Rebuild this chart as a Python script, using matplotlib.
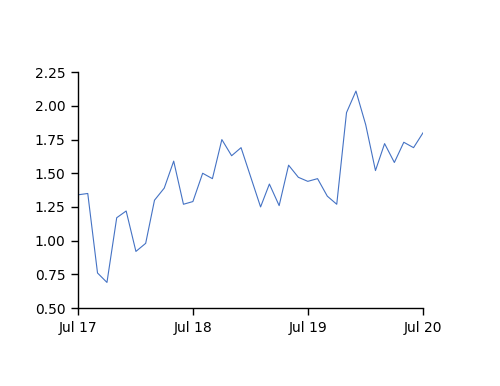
import matplotlib
matplotlib.use("Agg")
import matplotlib.pyplot as plt
import matplotlib.dates as mdates
import pandas as pd

# monthly values, Jul 2017 .. Jul 2020
months = pd.date_range("2017-07-01", "2020-07-01", freq="MS")
values = [1.34, 1.35, 0.76, 0.69, 1.17, 1.22, 0.92, 0.98, 1.30, 1.39, 1.59, 1.27,
          1.29, 1.50, 1.46, 1.75, 1.63, 1.69, 1.47, 1.25, 1.42, 1.26, 1.56, 1.47,
          1.44, 1.46, 1.33, 1.27, 1.95, 2.11, 1.86, 1.52, 1.72, 1.58, 1.73, 1.69,
          1.80]
yticks = [0.50, 0.75, 1.00, 1.25, 1.50, 1.75, 2.00, 2.25]
xtick_dates = pd.to_datetime(["2017-07-01", "2018-07-01", "2019-07-01", "2020-07-01"])

fig = plt.figure(figsize=(5, 3.86), dpi=100)
ax = fig.add_axes([0.156, 0.202, 0.69, 0.611])

ax.plot(months, values, color="#4472C4", lw=0.8)

ax.set_ylim(0.5, 2.25)
ax.set_yticks(yticks)
ax.set_yticklabels([f"{v:.2f}" for v in yticks])
ax.set_xlim(months[0], months[-1])
ax.set_xticks(xtick_dates)
ax.xaxis.set_major_formatter(mdates.DateFormatter("Jul %y"))

for s in ["top", "right"]:
    ax.spines[s].set_visible(False)
for s in ["left", "bottom"]:
    ax.spines[s].set_linewidth(1.0)
ax.tick_params(direction="out", length=5, width=1, labelsize=10, pad=4)

fig.savefig("out.png", dpi=100)
